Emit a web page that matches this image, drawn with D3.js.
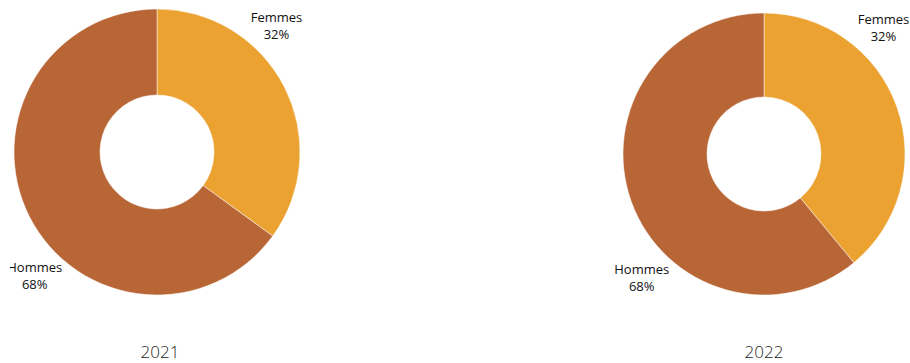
<!DOCTYPE html>
<html>
<head>
<meta charset="utf-8">
<script src="https://cdn.jsdelivr.net/npm/d3@7"></script>
<style>
  body { margin: 0; background: #fff; }
  svg { display: block; }
</style>
</head>
<body>
<svg id="chart" width="910" height="363"></svg>
<script>
// data
var years = ["2021", "2022"];
var categories = ["Femmes", "Hommes"];
var values2021 = [35, 65];      // slice sizes as drawn
var values2022 = [39, 61];
var pctLabels2021 = ["32%", "68%"];  // as printed on the chart
var pctLabels2022 = ["32%", "68%"];

var colors = ["#eba231", "#b86636"];

var width = 910, height = 363;

// layout for each donut
var donuts = [
  {year: years[0], values: values2021, labels: pctLabels2021, cx: 157, cy: 152, r: 143, clipX: 10},
  {year: years[1], values: values2022, labels: pctLabels2022, cx: 764, cy: 154, r: 141, clipX: 0}
];
var innerR = 57;
var labelAngle = [44, 224];   // degrees, clockwise from top
var labelDist = [172, 176];
var lineGap = 15;

var svg = d3.select("#chart");

var pie = d3.pie().sort(null).value(function(d) { return d; });

donuts.forEach(function(dn, k) {
  var clipId = "clip" + k;
  svg.append("clipPath").attr("id", clipId)
    .append("rect")
      .attr("x", dn.clipX)
      .attr("y", 0)
      .attr("width", width)
      .attr("height", height);

  var g = svg.append("g")
      .attr("clip-path", "url(#" + clipId + ")")
    .append("g")
      .attr("transform", "translate(" + dn.cx + "," + dn.cy + ")");

  var arc = d3.arc().innerRadius(innerR).outerRadius(dn.r);

  g.selectAll("path.slice")
    .data(pie(dn.values))
    .enter().append("path")
      .attr("class", "slice")
      .attr("d", arc)
      .attr("fill", function(d, i) { return colors[i]; })
      .attr("stroke", "#fff")
      .attr("stroke-width", 0.5);

  var lab = g.selectAll("g.lab")
    .data(categories)
    .enter().append("g")
      .attr("class", "lab")
      .attr("transform", function(d, i) {
        var a = labelAngle[i] * Math.PI / 180;
        return "translate(" + (Math.sin(a) * labelDist[i]) + "," + (-Math.cos(a) * labelDist[i]) + ")";
      })
      .attr("text-anchor", "middle")
      .attr("font-family", "'Open Sans', sans-serif")
      .attr("font-size", "13px")
      .attr("font-weight", 500)
      .attr("fill", "#111");

  lab.append("text")
      .attr("y", -lineGap / 2 + 1)
      .text(function(d) { return d; });
  lab.append("text")
      .attr("y", lineGap / 2 + 3)
      .text(function(d, i) { return dn.labels[i]; });

  svg.append("text")
      .attr("x", dn.cx + (k === 0 ? 3 : 0))
      .attr("y", 358)
      .attr("text-anchor", "middle")
      .attr("font-family", "'Open Sans', sans-serif")
      .attr("font-weight", 300)
      .attr("font-size", "17px")
      .attr("fill", "#222")
      .text(dn.year);
});
</script>
</body>
</html>
